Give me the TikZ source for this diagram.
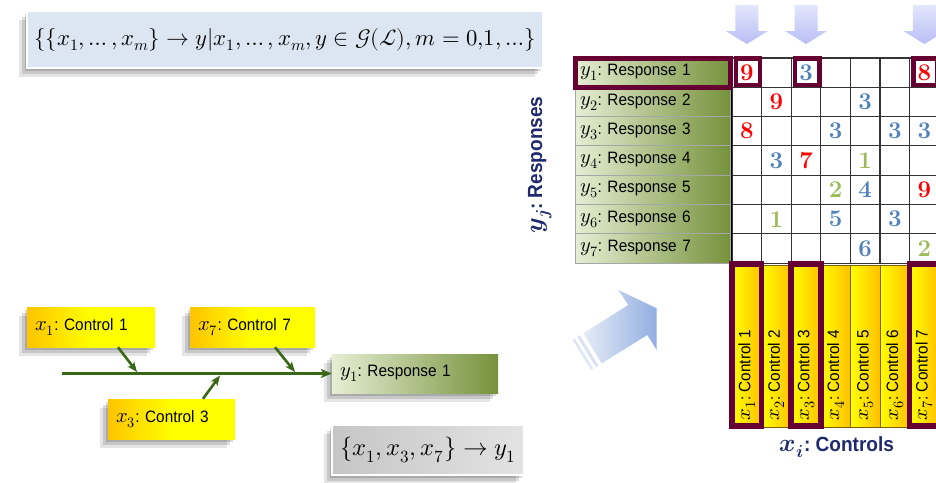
\documentclass[tikz,border=0pt]{standalone}
\usepackage{fontspec}
\usepackage{unicode-math}
\setmathfont{Latin Modern Math}
\newfontfamily\labfont[FakeStretch=0.93]{Liberation Sans}
\usetikzlibrary{shadows,arrows.meta,calc}

% math variables inside the sans labels are set a little larger
\newcommand\mv[1]{{\fontsize{20.5}{20}\selectfont$#1$}}
\newcommand\mvb[1]{{\fontsize{25}{24}\selectfont$#1$}}

\definecolor{hlMaroon}{RGB}{102,0,51}
\definecolor{oliveDark}{RGB}{118,146,60}
\definecolor{oliveLight}{RGB}{230,238,212}
\definecolor{goldC}{RGB}{255,192,0}
\definecolor{ctlOrange}{RGB}{255,196,0}
\definecolor{ctlEdge}{RGB}{127,96,0}
\definecolor{branchGreen}{RGB}{56,104,22}
\definecolor{axisNavy}{RGB}{31,42,110}
\definecolor{numRed}{RGB}{255,0,0}
\definecolor{numBlue}{RGB}{79,129,189}
\definecolor{numGreen}{RGB}{155,187,89}
\definecolor{lavDark}{RGB}{184,190,245}
\definecolor{lavLight}{RGB}{228,230,252}
\definecolor{paleBlue}{RGB}{220,230,242}
\definecolor{arrowBlue}{RGB}{146,174,224}
\definecolor{arrowPale}{RGB}{230,236,247}

\tikzset{
  softshadow/.style={
    general shadow={shadow xshift=-2pt,shadow yshift=-3pt,fill=black,opacity=.14},
    general shadow={shadow xshift=-5pt,shadow yshift=-6pt,fill=black,opacity=.13},
    general shadow={shadow xshift=-8pt,shadow yshift=-9pt,fill=black,opacity=.10}},
  lab/.style={font=\labfont\frenchspacing\fontsize{16.5}{19}\selectfont, inner sep=0pt},
  ctlbox/.style={lab, shading=axis, left color=ctlOrange, right color=yellow,
    middle color=yellow, minimum height=40, inner xsep=8, align=left, softshadow},
  respbox/.style={lab, left color=oliveLight, right color=oliveDark,
    minimum height=39, inner xsep=8, text width=150, align=left, softshadow},
  resphead/.style={lab, draw=gray!70, line width=1, left color=oliveLight,
    right color=oliveDark, minimum height=29.3, inner xsep=5, text width=145,
    align=left},
  colbox/.style={draw=ctlEdge, line width=.6, left color=yellow, right color=goldC,
    minimum width=29.6, minimum height=162, inner sep=0pt},
  colpick/.style={draw=hlMaroon, line width=5.5},
  collab/.style={lab, rotate=90, anchor=west},
  numcell/.style={font=\bfseries\fontsize{24}{24}\selectfont, inner sep=0pt},
  gridline/.style={draw=black!80, line width=1.1},
  mainflow/.style={draw=branchGreen, line width=3.3,
    -{Stealth[length=11pt,width=9pt,inset=3pt]}},
  branchflow/.style={draw=branchGreen, line width=2.6,
    -{Stealth[length=10pt,width=8pt,inset=2.5pt]}},
  axislab/.style={font=\labfont\frenchspacing\bfseries\fontsize{20.5}{24}\selectfont,
    text=axisNavy, inner sep=0pt},
  setbox/.style={fill=paleBlue, draw=white, line width=2, softshadow,
    font=\fontsize{22.7}{26}\selectfont, inner sep=0pt},
  pairbox/.style={left color=gray!45, right color=gray!22, draw=white,
    line width=1.5, softshadow, font=\fontsize{24.5}{26}\selectfont, inner sep=0pt}
}

\begin{document}
\begin{tikzpicture}[x=1pt,y=-1pt]
\useasboundingbox (0,0) rectangle (936,482);
\clip (0,0) rectangle (936,482);
\fill[white] (0,0) rectangle (936,482);

% ---------- set of all relations ----------
\node[setbox, minimum width=516, minimum height=57] (allsets) at (285,39.5)
  {$\{\{x_1,\ldots,x_m\}\rightarrow y|x_1,\ldots,x_m,y\in\mathcal{G}(\mathcal{L}),m=0{,}1,\ldots\}$};

% ---------- one relation drawn as a flow ----------
\node[ctlbox, text width=112] (bx1) at (91,327) {\mv{x_1}: Control 1};
\node[ctlbox, text width=109] (bx7) at (252.5,327) {\mv{x_7}: Control 7};
\node[ctlbox, text width=111] (bx3) at (171.5,419) {\mv{x_3}: Control 3};
\node[respbox] (by1) at (415,373.5) {\mv{y_1}: Response 1};

\coordinate (lstart) at (62,373.5);
\coordinate (j1) at (137,372);
\coordinate (j7) at (295,372);
\coordinate (j3) at (220,375.5);
\draw[mainflow] (lstart) -- (by1.west);
\draw[branchflow] ([xshift=27pt]bx1.south) -- (j1);
\draw[branchflow] ([xshift=22.5pt]bx7.south) -- (j7);
\draw[branchflow] ([xshift=31.5pt]bx3.north) -- (j3);

\node[pairbox, minimum width=192, minimum height=50] (pair) at (428,450)
  {$\{x_1,x_3,x_7\}\rightarrow y_1$};

% ---------- big transition arrow ----------
\shade[left color=arrowPale, right color=arrowBlue]
  (583.3,333.3) -- (628.3,305) -- (618.3,290) -- (656.7,308.3)
  -- (656.7,350) -- (647.3,335) -- (601.7,363.3) -- cycle;
\fill[arrowPale!85!arrowBlue] (579.9,335.4) -- (577.4,337.0) -- (595.8,367.0) -- (598.3,365.4) -- cycle;
\fill[arrowPale!90!arrowBlue] (574.8,338.6) -- (572.7,339.9) -- (591.1,369.9) -- (593.2,368.6) -- cycle;

% ---------- relation matrix ----------
\fill[white] (732,58) rectangle (940,263.1);
\foreach \i in {0,...,7}
  \draw[gridline] ({732+\i*29.6},58) -- ({732+\i*29.6},263.1);
\foreach \j in {0,...,7}
  \draw[gridline] (732,{58+\j*29.3}) -- (940,{58+\j*29.3});
\draw[black, line width=1.6] (731,58) -- (731,263.1);

% response headers
\foreach \r in {2,...,7}
  \node[resphead] (r\r) at (652.5,{58+(\r-0.5)*29.3}) {\mv{y_{\r}}: Response \r};
\node[resphead, draw=hlMaroon, line width=5] (r1) at (652.5,{58+0.5*29.3}) {\mv{y_1}: Response 1};

% selected cells of the first response
\foreach \c in {1,3,7}
  \draw[hlMaroon, line width=4.5] ({732+(\c-1)*29.6+4},58.3) rectangle ({732+\c*29.6-1.5},85);

% matrix entries
\foreach \r/\c/\n/\cl in {1/1/9/numRed, 1/3/3/numBlue, 1/7/8/numRed,
    2/2/9/numRed, 2/5/3/numBlue,
    3/1/8/numRed, 3/4/3/numBlue, 3/6/3/numBlue, 3/7/3/numBlue,
    4/2/3/numBlue, 4/3/7/numRed, 4/5/1/numGreen,
    5/4/2/numGreen, 5/5/4/numBlue, 5/7/9/numRed,
    6/2/1/numGreen, 6/4/5/numBlue, 6/6/3/numBlue,
    7/5/6/numBlue, 7/7/2/numGreen}
  \node[numcell, text=\cl] (n\r\c) at ({732+(\c-0.5)*29.6},{58+(\r-0.5)*29.3}) {\n};

% control headers
\foreach \c in {1,...,7}
  \node[colbox] (col\c) at ({732+(\c-0.5)*29.6},346) {};
\foreach \c in {1,3,7}
  \node[colbox, colpick] (pick\c) at ({732+(\c-0.5)*29.6},345) {};
\foreach \c in {1,...,7}
  \node[collab] (cl\c) at ([yshift=7pt]col\c.south) {\mv{x_{\c}}: Control \c};

% selection arrows above the chosen controls
\foreach \c in {1,3,7} {
  \pgfmathsetmacro\cx{732+(\c-0.5)*29.6}
  \shade[top color=lavLight, bottom color=lavDark]
    ({\cx-11.5},5) -- ({\cx+11.5},5) -- ({\cx+11.5},31) -- ({\cx+21},31)
    -- (\cx,44) -- ({\cx-21},31) -- ({\cx-11.5},31) -- cycle;
}

% axis titles
\node[axislab] (ctlaxis) at (837,447) {\mvb{\symbfit{x}_{\symbfit{i}}}: Controls};
\node[axislab, rotate=90] (respaxis) at (540,165) {\mvb{\symbfit{y}_{\symbfit{j}}}: Responses};
\end{tikzpicture}
\end{document}
